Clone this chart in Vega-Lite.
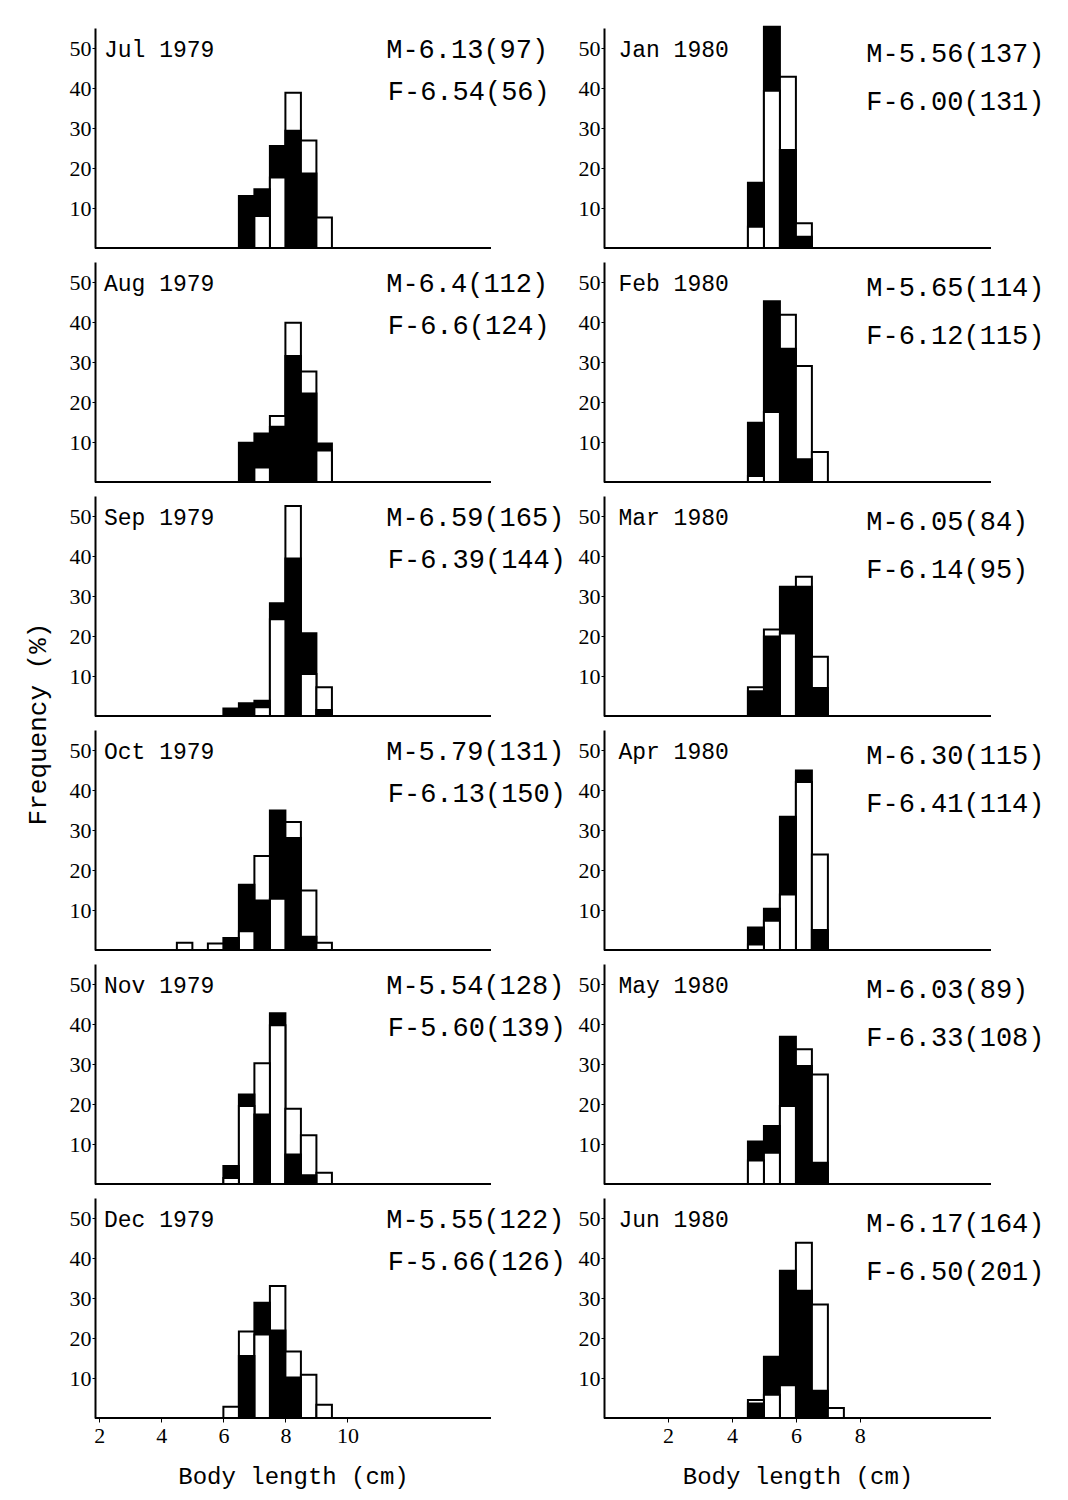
{
  "$schema": "https://vega.github.io/schema/vega-lite/v6.json",
  "padding": {"left": 24, "top": 25, "right": 5, "bottom": 5},
  "background": "white",
  "bounds": "flush",
  "spacing": 509,
  "datasets": {
    "bars": [
      {"month": "Jul 1979", "lo": 6.5, "hi": 7.0, "M": 13.0, "F": 0},
      {"month": "Jul 1979", "lo": 7.0, "hi": 7.5, "M": 14.7, "F": 8.0},
      {"month": "Jul 1979", "lo": 7.5, "hi": 8.0, "M": 25.5, "F": 17.6},
      {"month": "Jul 1979", "lo": 8.0, "hi": 8.5, "M": 29.3, "F": 38.8},
      {"month": "Jul 1979", "lo": 8.5, "hi": 9.0, "M": 18.6, "F": 26.9},
      {"month": "Jul 1979", "lo": 9.0, "hi": 9.5, "M": 0, "F": 7.6},
      {"month": "Aug 1979", "lo": 6.5, "hi": 7.0, "M": 9.8, "F": 0},
      {"month": "Aug 1979", "lo": 7.0, "hi": 7.5, "M": 12.1, "F": 3.6},
      {"month": "Aug 1979", "lo": 7.5, "hi": 8.0, "M": 13.8, "F": 16.5},
      {"month": "Aug 1979", "lo": 8.0, "hi": 8.5, "M": 31.5, "F": 39.8},
      {"month": "Aug 1979", "lo": 8.5, "hi": 9.0, "M": 22.1, "F": 27.6},
      {"month": "Aug 1979", "lo": 9.0, "hi": 9.5, "M": 9.6, "F": 7.9},
      {"month": "Sep 1979", "lo": 6.0, "hi": 6.5, "M": 1.9, "F": 0},
      {"month": "Sep 1979", "lo": 6.5, "hi": 7.0, "M": 3.2, "F": 0},
      {"month": "Sep 1979", "lo": 7.0, "hi": 7.5, "M": 3.8, "F": 2.2},
      {"month": "Sep 1979", "lo": 7.5, "hi": 8.0, "M": 28.2, "F": 24.2},
      {"month": "Sep 1979", "lo": 8.0, "hi": 8.5, "M": 39.4, "F": 52.5},
      {"month": "Sep 1979", "lo": 8.5, "hi": 9.0, "M": 20.7, "F": 10.5},
      {"month": "Sep 1979", "lo": 9.0, "hi": 9.5, "M": 1.5, "F": 7.2},
      {"month": "Oct 1979", "lo": 4.5, "hi": 5.0, "M": 0, "F": 1.8},
      {"month": "Oct 1979", "lo": 5.5, "hi": 6.0, "M": 0, "F": 1.6},
      {"month": "Oct 1979", "lo": 6.0, "hi": 6.5, "M": 3.0, "F": 0},
      {"month": "Oct 1979", "lo": 6.5, "hi": 7.0, "M": 16.3, "F": 4.7},
      {"month": "Oct 1979", "lo": 7.0, "hi": 7.5, "M": 12.4, "F": 23.5},
      {"month": "Oct 1979", "lo": 7.5, "hi": 8.0, "M": 34.9, "F": 12.8},
      {"month": "Oct 1979", "lo": 8.0, "hi": 8.5, "M": 28.0, "F": 32.0},
      {"month": "Oct 1979", "lo": 8.5, "hi": 9.0, "M": 3.3, "F": 14.9},
      {"month": "Oct 1979", "lo": 9.0, "hi": 9.5, "M": 0, "F": 1.8},
      {"month": "Nov 1979", "lo": 6.0, "hi": 6.5, "M": 4.5, "F": 1.5},
      {"month": "Nov 1979", "lo": 6.5, "hi": 7.0, "M": 22.4, "F": 19.5},
      {"month": "Nov 1979", "lo": 7.0, "hi": 7.5, "M": 17.4, "F": 30.2},
      {"month": "Nov 1979", "lo": 7.5, "hi": 8.0, "M": 42.7, "F": 39.7},
      {"month": "Nov 1979", "lo": 8.0, "hi": 8.5, "M": 7.4, "F": 18.8},
      {"month": "Nov 1979", "lo": 8.5, "hi": 9.0, "M": 2.2, "F": 12.2},
      {"month": "Nov 1979", "lo": 9.0, "hi": 9.5, "M": 0, "F": 2.8},
      {"month": "Dec 1979", "lo": 6.0, "hi": 6.5, "M": 0, "F": 2.8},
      {"month": "Dec 1979", "lo": 6.5, "hi": 7.0, "M": 15.5, "F": 21.6},
      {"month": "Dec 1979", "lo": 7.0, "hi": 7.5, "M": 28.8, "F": 20.9},
      {"month": "Dec 1979", "lo": 7.5, "hi": 8.0, "M": 21.9, "F": 33.0},
      {"month": "Dec 1979", "lo": 8.0, "hi": 8.5, "M": 10.1, "F": 16.6},
      {"month": "Dec 1979", "lo": 8.5, "hi": 9.0, "M": 0, "F": 10.8},
      {"month": "Dec 1979", "lo": 9.0, "hi": 9.5, "M": 0, "F": 3.3},
      {"month": "Jan 1980", "lo": 4.5, "hi": 5.0, "M": 16.3, "F": 5.3},
      {"month": "Jan 1980", "lo": 5.0, "hi": 5.5, "M": 55.3, "F": 39.3},
      {"month": "Jan 1980", "lo": 5.5, "hi": 6.0, "M": 24.5, "F": 42.8},
      {"month": "Jan 1980", "lo": 6.0, "hi": 6.5, "M": 2.8, "F": 6.2},
      {"month": "Feb 1980", "lo": 4.5, "hi": 5.0, "M": 14.8, "F": 1.5},
      {"month": "Feb 1980", "lo": 5.0, "hi": 5.5, "M": 45.2, "F": 17.5},
      {"month": "Feb 1980", "lo": 5.5, "hi": 6.0, "M": 33.3, "F": 41.8},
      {"month": "Feb 1980", "lo": 6.0, "hi": 6.5, "M": 5.7, "F": 29.0},
      {"month": "Feb 1980", "lo": 6.5, "hi": 7.0, "M": 0, "F": 7.5},
      {"month": "Mar 1980", "lo": 4.5, "hi": 5.0, "M": 6.2, "F": 7.2},
      {"month": "Mar 1980", "lo": 5.0, "hi": 5.5, "M": 19.9, "F": 21.6},
      {"month": "Mar 1980", "lo": 5.5, "hi": 6.0, "M": 32.3, "F": 20.6},
      {"month": "Mar 1980", "lo": 6.0, "hi": 6.5, "M": 32.3, "F": 34.8},
      {"month": "Mar 1980", "lo": 6.5, "hi": 7.0, "M": 7.0, "F": 14.8},
      {"month": "Apr 1980", "lo": 4.5, "hi": 5.0, "M": 5.6, "F": 1.4},
      {"month": "Apr 1980", "lo": 5.0, "hi": 5.5, "M": 10.3, "F": 7.3},
      {"month": "Apr 1980", "lo": 5.5, "hi": 6.0, "M": 33.3, "F": 13.9},
      {"month": "Apr 1980", "lo": 6.0, "hi": 6.5, "M": 44.9, "F": 42.0},
      {"month": "Apr 1980", "lo": 6.5, "hi": 7.0, "M": 5.0, "F": 23.9},
      {"month": "May 1980", "lo": 4.5, "hi": 5.0, "M": 10.6, "F": 5.9},
      {"month": "May 1980", "lo": 5.0, "hi": 5.5, "M": 14.5, "F": 7.8},
      {"month": "May 1980", "lo": 5.5, "hi": 6.0, "M": 36.8, "F": 19.5},
      {"month": "May 1980", "lo": 6.0, "hi": 6.5, "M": 29.5, "F": 33.7},
      {"month": "May 1980", "lo": 6.5, "hi": 7.0, "M": 5.3, "F": 27.4},
      {"month": "Jun 1980", "lo": 4.5, "hi": 5.0, "M": 3.6, "F": 4.5},
      {"month": "Jun 1980", "lo": 5.0, "hi": 5.5, "M": 15.3, "F": 5.8},
      {"month": "Jun 1980", "lo": 5.5, "hi": 6.0, "M": 36.8, "F": 8.2},
      {"month": "Jun 1980", "lo": 6.0, "hi": 6.5, "M": 31.8, "F": 43.8},
      {"month": "Jun 1980", "lo": 6.5, "hi": 7.0, "M": 6.8, "F": 28.4},
      {"month": "Jun 1980", "lo": 7.0, "hi": 7.5, "M": 0, "F": 2.5}
    ],
    "panels": [
      {"month": "Jul 1979", "m": "M-6.13(97)", "f": "F-6.54(56)"},
      {"month": "Aug 1979", "m": "M-6.4(112)", "f": "F-6.6(124)"},
      {"month": "Sep 1979", "m": "M-6.59(165)", "f": "F-6.39(144)"},
      {"month": "Oct 1979", "m": "M-5.79(131)", "f": "F-6.13(150)"},
      {"month": "Nov 1979", "m": "M-5.54(128)", "f": "F-5.60(139)"},
      {"month": "Dec 1979", "m": "M-5.55(122)", "f": "F-5.66(126)"},
      {"month": "Jan 1980", "m": "M-5.56(137)", "f": "F-6.00(131)"},
      {"month": "Feb 1980", "m": "M-5.65(114)", "f": "F-6.12(115)"},
      {"month": "Mar 1980", "m": "M-6.05(84)", "f": "F-6.14(95)"},
      {"month": "Apr 1980", "m": "M-6.30(115)", "f": "F-6.41(114)"},
      {"month": "May 1980", "m": "M-6.03(89)", "f": "F-6.33(108)"},
      {"month": "Jun 1980", "m": "M-6.17(164)", "f": "F-6.50(201)"}
    ]
  },
  "hconcat": [
    {
      "data": {"name": "bars"},
      "transform": [
        {"filter": {"field": "month", "oneOf": ["Jul 1979", "Aug 1979", "Sep 1979", "Oct 1979", "Nov 1979", "Dec 1979"]}},
        {"lookup": "month", "from": {"data": {"name": "panels"}, "key": "month", "fields": ["m", "f"]}},
        {"fold": ["M", "F"], "as": ["sex", "pct"]}
      ],
      "bounds": "flush",
      "spacing": 14,
      "facet": {
        "row": {
          "field": "month", "type": "nominal",
          "sort": ["Jul 1979", "Aug 1979", "Sep 1979", "Oct 1979", "Nov 1979", "Dec 1979"],
          "header": {"title": "Frequency (%)", "labels": false, "titleFont": "Liberation Mono", "titleFontSize": 26, "titleFontWeight": "normal", "titleColor": "black", "titlePadding": 8}
        }
      },
      "spec": {
        "width": 396,
        "height": 220,
        "layer": [
          {
            "mark": {"type": "rule", "color": "black", "strokeWidth": 2},
            "encoding": {"y": {"datum": 0, "type": "quantitative"}}
          },
          {
            "mark": {"type": "bar", "stroke": "black", "strokeWidth": 2, "cornerRadius": 0},
            "encoding": {
              "x": {"field": "lo", "type": "quantitative", "scale": {"domain": [1.86, 14.63], "nice": false, "zero": false},
                    "axis": {"values": [2, 4, 6, 8, 10], "title": "Body length (cm)", "domain": false, "grid": false, "tickSize": 4, "labelFont": "Liberation Serif", "labelFontSize": 22, "labelPadding": 3, "titleFont": "Liberation Mono", "titleFontSize": 24, "titleFontWeight": "normal", "titlePadding": 18}},
              "x2": {"field": "hi"},
              "y": {"field": "pct", "type": "quantitative", "stack": null, "scale": {"domain": [0, 55], "nice": false},
                    "axis": {"values": [10, 20, 30, 40, 50], "title": null, "grid": false, "domainWidth": 2, "tickSize": 3, "labelFont": "Liberation Serif", "labelFontSize": 22, "labelPadding": 1}},
              "y2": {"datum": 0},
              "fill": {"field": "sex", "type": "nominal", "scale": {"domain": ["M", "F"], "range": ["black", "white"]}, "legend": null},
              "order": {"field": "pct", "sort": "descending"}
            }
          },
          {
            "transform": [
              {"aggregate": [{"op": "count", "as": "n"}], "groupby": ["month", "m", "f"]}
            ],
            "layer": [
              {
                "mark": {"type": "text", "align": "left", "baseline": "middle", "font": "Liberation Mono", "fontSize": 23, "color": "black"},
                "encoding": {"x": {"datum": 2.15, "type": "quantitative"}, "y": {"datum": 49.5, "type": "quantitative"}, "text": {"field": "month"}}
              },
              {
                "mark": {"type": "text", "align": "left", "baseline": "middle", "font": "Liberation Mono", "fontSize": 27, "color": "black"},
                "encoding": {"x": {"datum": 11.25, "type": "quantitative"}, "y": {"datum": 49.5, "type": "quantitative"}, "text": {"field": "m"}}
              },
              {
                "mark": {"type": "text", "align": "left", "baseline": "middle", "font": "Liberation Mono", "fontSize": 27, "color": "black"},
                "encoding": {"x": {"datum": 11.3, "type": "quantitative"}, "y": {"datum": 39, "type": "quantitative"}, "text": {"field": "f"}}
              }
            ]
          }
        ]
      }
    },
    {
      "data": {"name": "bars"},
      "transform": [
        {"filter": {"field": "month", "oneOf": ["Jan 1980", "Feb 1980", "Mar 1980", "Apr 1980", "May 1980", "Jun 1980"]}},
        {"lookup": "month", "from": {"data": {"name": "panels"}, "key": "month", "fields": ["m", "f"]}},
        {"fold": ["M", "F"], "as": ["sex", "pct"]}
      ],
      "bounds": "flush",
      "spacing": 14,
      "facet": {
        "row": {
          "field": "month", "type": "nominal",
          "sort": ["Jan 1980", "Feb 1980", "Mar 1980", "Apr 1980", "May 1980", "Jun 1980"],
          "header": {"title": null, "labels": false}
        }
      },
      "spec": {
        "width": 387,
        "height": 220,
        "layer": [
          {
            "mark": {"type": "rule", "color": "black", "strokeWidth": 2},
            "encoding": {"y": {"datum": 0, "type": "quantitative"}}
          },
          {
            "mark": {"type": "bar", "stroke": "black", "strokeWidth": 2, "cornerRadius": 0},
            "encoding": {
              "x": {"field": "lo", "type": "quantitative", "scale": {"domain": [0, 12.1], "nice": false, "zero": false},
                    "axis": {"values": [2, 4, 6, 8], "title": "Body length (cm)", "domain": false, "grid": false, "tickSize": 4, "labelFont": "Liberation Serif", "labelFontSize": 22, "labelPadding": 3, "titleFont": "Liberation Mono", "titleFontSize": 24, "titleFontWeight": "normal", "titlePadding": 18}},
              "x2": {"field": "hi"},
              "y": {"field": "pct", "type": "quantitative", "stack": null, "scale": {"domain": [0, 55], "nice": false},
                    "axis": {"values": [10, 20, 30, 40, 50], "title": null, "grid": false, "domainWidth": 2, "tickSize": 3, "labelFont": "Liberation Serif", "labelFontSize": 22, "labelPadding": 1}},
              "y2": {"datum": 0},
              "fill": {"field": "sex", "type": "nominal", "scale": {"domain": ["M", "F"], "range": ["black", "white"]}, "legend": null},
              "order": {"field": "pct", "sort": "descending"}
            }
          },
          {
            "transform": [
              {"aggregate": [{"op": "count", "as": "n"}], "groupby": ["month", "m", "f"]}
            ],
            "layer": [
              {
                "mark": {"type": "text", "align": "left", "baseline": "middle", "font": "Liberation Mono", "fontSize": 23, "color": "black"},
                "encoding": {"x": {"datum": 0.45, "type": "quantitative"}, "y": {"datum": 49.5, "type": "quantitative"}, "text": {"field": "month"}}
              },
              {
                "mark": {"type": "text", "align": "left", "baseline": "middle", "font": "Liberation Mono", "fontSize": 27, "color": "black"},
                "encoding": {"x": {"datum": 8.2, "type": "quantitative"}, "y": {"datum": 48.5, "type": "quantitative"}, "text": {"field": "m"}}
              },
              {
                "mark": {"type": "text", "align": "left", "baseline": "middle", "font": "Liberation Mono", "fontSize": 27, "color": "black"},
                "encoding": {"x": {"datum": 8.2, "type": "quantitative"}, "y": {"datum": 36.5, "type": "quantitative"}, "text": {"field": "f"}}
              }
            ]
          }
        ]
      }
    }
  ],
  "config": {
    "view": {"stroke": null},
    "axis": {"domainColor": "black", "tickColor": "black", "labelColor": "black", "titleColor": "black"}
  }
}
